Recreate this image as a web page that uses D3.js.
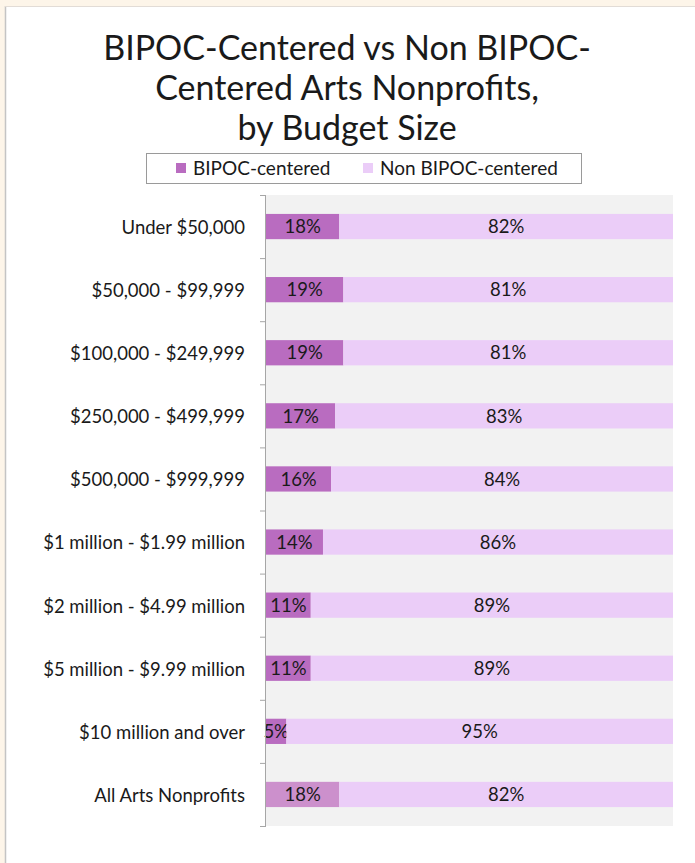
<!DOCTYPE html>
<html>
<head>
<meta charset="utf-8">
<script src="https://cdn.jsdelivr.net/npm/d3@7"></script>
<style>
  html, body { margin: 0; padding: 0; background: #fdf5e9; }
  svg { display: block; }
  text { font-family: Lato, "Open Sans", sans-serif; fill: #1a1a1a; }
</style>
</head>
<body>
<svg id="chart" width="695" height="863"></svg>
<script>
const titleLines = ["BIPOC-Centered vs Non BIPOC-", "Centered Arts Nonprofits,", "by Budget Size"];
const categories = ["Under $50,000", "$50,000 - $99,999", "$100,000 - $249,999", "$250,000 - $499,999", "$500,000 - $999,999", "$1 million - $1.99 million", "$2 million - $4.99 million", "$5 million - $9.99 million", "$10 million and over", "All Arts Nonprofits"];
const seriesNames = ["BIPOC-centered", "Non BIPOC-centered"];
const bipoc = [18, 19, 19, 17, 16, 14, 11, 11, 5, 18];
const nonBipoc = [82, 81, 81, 83, 84, 86, 89, 89, 95, 82];

const svg = d3.select("#chart");
const W = 695, H = 863;

// frame
svg.append("rect").attr("x", 0).attr("y", 0).attr("width", W).attr("height", H).attr("fill", "#fdf5e9");
svg.append("rect").attr("x", 5).attr("y", 6).attr("width", W - 5).attr("height", H - 6).attr("fill", "#ffffff");
svg.append("line").attr("x1", 5.5).attr("x2", 5.5).attr("y1", 6).attr("y2", H).attr("stroke", "#c4c4c4").attr("stroke-width", 1.5);
svg.append("line").attr("x1", 5).attr("x2", W).attr("y1", 6.5).attr("y2", 6.5).attr("stroke", "#e2dcd6").attr("stroke-width", 1);

// title
const title = svg.append("text").attr("text-anchor", "middle").style("font-size", "34px");
titleLines.forEach((t, i) => {
  title.append("tspan").attr("x", 347).attr("y", 60 + i * 40).text(t);
});

// scales
const plot = { left: 266, right: 673, top: 195, bottom: 826 };
const x = d3.scaleLinear().domain([0, 100]).range([plot.left, plot.right]);
const y = d3.scaleBand().domain(categories).range([plot.top, plot.bottom]).paddingInner(0.6).paddingOuter(0.3);
const yAxisScale = d3.scaleBand().domain(categories).range([plot.top, plot.bottom]);

svg.append("rect").attr("x", plot.left).attr("y", plot.top).attr("width", plot.right - plot.left).attr("height", plot.bottom - plot.top).attr("fill", "#f2f2f2");

const colors = ["#b96cc0", "#ebcdf8"];
const lastBipoc = "#cc90cc";

const stackData = categories.map((c, i) => ({ cat: c, idx: i, BIPOC: bipoc[i], Non: nonBipoc[i] }));
const stack = d3.stack().keys(["BIPOC", "Non"])(stackData);

stack.forEach((layer, li) => {
  const g = svg.append("g");
  g.selectAll("rect").data(layer).join("rect")
    .attr("x", d => x(d[0]))
    .attr("y", d => y(d.data.cat))
    .attr("width", d => x(d[1]) - x(d[0]))
    .attr("height", y.bandwidth())
    .attr("fill", d => (li === 0 && d.data.idx === categories.length - 1) ? lastBipoc : colors[li]);
  g.selectAll("text").data(layer).join("text")
    .attr("x", d => (x(d[0]) + x(d[1])) / 2)
    .attr("y", d => y(d.data.cat) + y.bandwidth() / 2)
    .attr("dy", "0.36em")
    .attr("text-anchor", "middle")
    .style("font-size", "18.5px")
    .text(d => (d[1] - d[0]) + "%");
});

// axis
const axis = d3.axisLeft(yAxisScale).tickSize(0).tickPadding(20);
const ag = svg.append("g").attr("transform", `translate(${plot.left},0)`).call(axis);
ag.select(".domain").remove();
ag.selectAll("text").style("font-size", "18.5px").attr("fill", "#1a1a1a").attr("dy", "0.4em")
  .attr("x", -21);
// axis line & boundary ticks
svg.append("line").attr("x1", plot.left - 0.5).attr("x2", plot.left - 0.5).attr("y1", plot.top).attr("y2", plot.bottom)
  .attr("stroke", "#a6a6a6").attr("stroke-width", 1);
const bounds = categories.map(c => yAxisScale(c)).concat([plot.bottom]);
svg.append("g").selectAll("line").data(bounds).join("line")
  .attr("x1", plot.left - 6).attr("x2", plot.left)
  .attr("y1", d => d + 0.5).attr("y2", d => d + 0.5)
  .attr("stroke", "#a6a6a6").attr("stroke-width", 1);

// legend
const lg = svg.append("g");
lg.append("rect").attr("x", 146.5).attr("y", 153.5).attr("width", 435).attr("height", 30)
  .attr("fill", "#ffffff").attr("stroke", "#9a9a9a").attr("stroke-width", 1);
const legendX = [176, 363];
seriesNames.forEach((n, i) => {
  lg.append("rect").attr("x", legendX[i]).attr("y", 163).attr("width", 10).attr("height", 10).attr("fill", colors[i]);
  lg.append("text").attr("x", legendX[i] + 17).attr("y", 168).attr("dy", "0.36em").style("font-size", "19px").text(n);
});
</script>
</body>
</html>
